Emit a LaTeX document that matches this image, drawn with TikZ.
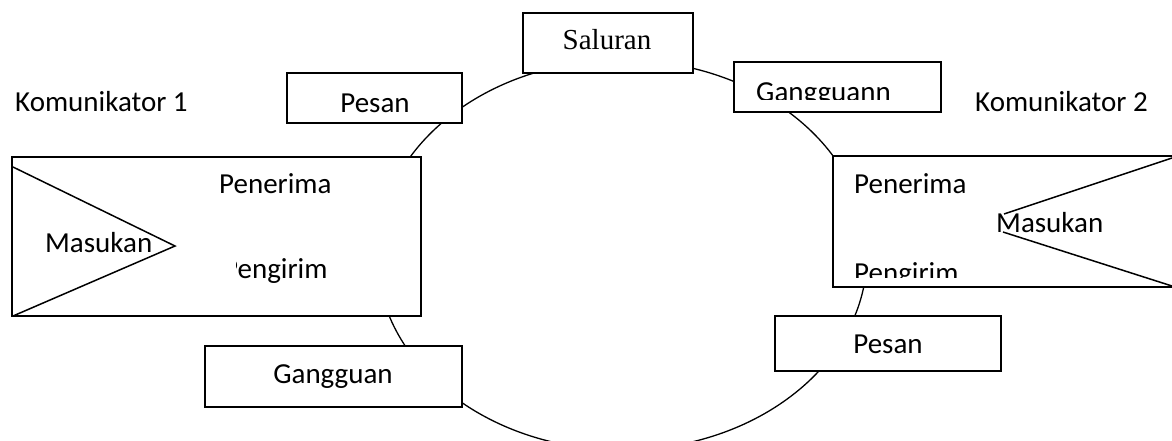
\documentclass[tikz,border=0pt]{standalone}
\usepackage{fontspec}
\setmainfont{Carlito}
\newfontfamily\timesf{Liberation Serif}
\begin{document}
\begin{tikzpicture}[x=1pt,y=-1pt,
  box/.style={draw, fill=white, line width=1.5pt, inner sep=0pt, rectangle},
  txt/.style={inner sep=0pt, font=\fontsize{29}{34}\selectfont},
  ring/.style={line width=1.3pt},
  tri/.style={line width=1.5pt}]
\useasboundingbox (0,0) rectangle (1172,440);
\clip (0,0) rectangle (1172,440);
% the ring
\draw[ring] (622,255) ellipse [x radius=245pt, y radius=195pt];
% boxes
\node[box, minimum width=409pt, minimum height=159pt] (kom1) at (216.5,236.5) {};
\node[box, minimum width=342pt, minimum height=131pt] (kom2) at (1004,221.5) {};
\node[box, minimum width=170pt, minimum height=60pt] (saluran) at (608,43) {};
\node[box, minimum width=175pt, minimum height=50pt] (pesan1) at (374.5,98) {};
\node[box, minimum width=207pt, minimum height=50pt] (gang2) at (837.5,87) {};
\node[box, minimum width=257pt, minimum height=61pt] (gang1) at (333.5,376.5) {};
\node[box, minimum width=226pt, minimum height=55pt] (pesan2) at (888,343.5) {};
% triangles
\draw[tri] (13,167) -- (175,246) -- (13,316);
\draw[tri] (1172,158) -- (1004,214);
\draw[tri] (1003,232) -- (1172,286);
% labels
\node[txt, anchor=base west] (k1) at (15,111) {Komunikator 1};
\node[txt, anchor=base west] (k2) at (975,111) {Komunikator 2};
\node[txt, anchor=base] (tsal) at (607,49) {\timesf Saluran};
\node[txt, anchor=base] (tp1) at (375,112) {Pesan};
\node[txt, anchor=base] (tg1) at (333,383) {Gangguan};
\node[txt, anchor=base] (tp2) at (888,353) {Pesan};
\node[txt, anchor=base west] (pen1) at (219,193) {Penerima};
\node[txt, anchor=base west] (mas1) at (45,252) {Masukan};
\node[txt, anchor=base west] (pen2) at (854,193) {Penerima};
\node[txt, anchor=base west] (mas2) at (996,232) {Masukan};
\begin{scope}
  \clip (236,240) rectangle (360,300);
  \node[txt, anchor=base west] (peng1) at (223,278) {Pengirim};
\end{scope}
\begin{scope}
  \clip (840,240) rectangle (1000,277.5);
  \node[txt, anchor=base west] (peng2) at (854,282) {Pengirim};
\end{scope}
\begin{scope}
  \clip (740,65) rectangle (935,99.5);
  \node[txt, anchor=base west] (tg2) at (756,101) {Gangguann};
\end{scope}
\end{tikzpicture}
\end{document}
